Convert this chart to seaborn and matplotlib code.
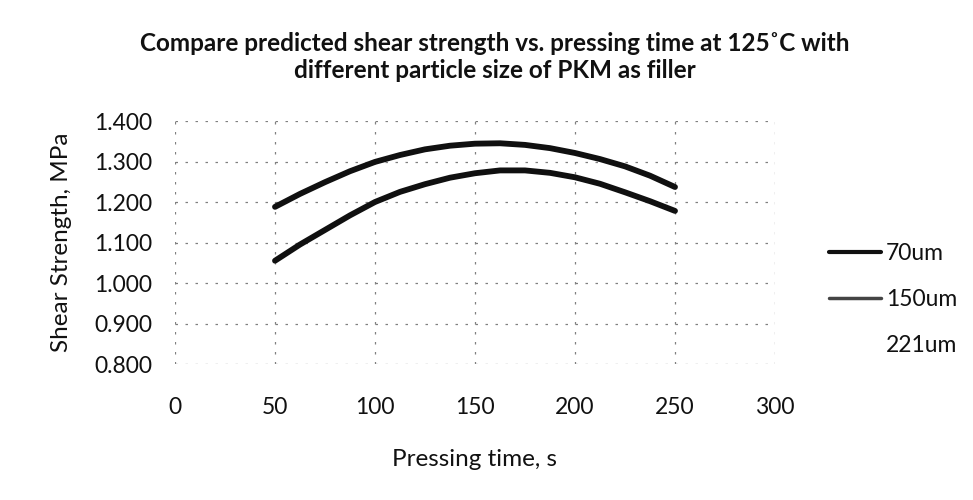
import matplotlib
matplotlib.use("Agg")
import matplotlib.pyplot as plt
from matplotlib.lines import Line2D
import seaborn as sns
import pandas as pd

# Data
time_s = [50, 62.5, 75, 87.5, 100, 112.5, 125, 137.5, 150, 162.5, 175,
          187.5, 200, 212.5, 225, 237.5, 250]
strength_70um = [1.188, 1.220, 1.249, 1.276, 1.299, 1.316, 1.330, 1.339, 1.344,
                 1.345, 1.341, 1.333, 1.321, 1.306, 1.288, 1.265, 1.237]
strength_150um = [1.055, 1.095, 1.131, 1.167, 1.200, 1.225, 1.244, 1.260, 1.271,
                  1.278, 1.278, 1.272, 1.261, 1.245, 1.224, 1.202, 1.178]
series_labels = ["70um", "150um", "221um"]
x_ticks = [0, 50, 100, 150, 200, 250, 300]
y_ticks = [0.8, 0.9, 1.0, 1.1, 1.2, 1.3, 1.4]

title = ("Compare predicted shear strength vs. pressing time at 125\u02daC with\n"
         "different particle size of PKM as filler")
x_label = "Pressing time, s"
y_label = "Shear Strength, MPa"

df = pd.concat([
    pd.DataFrame({"time": time_s, "strength": strength_70um, "size": series_labels[0]}),
    pd.DataFrame({"time": time_s, "strength": strength_150um, "size": series_labels[1]}),
])

sns.set_theme(style="white")
plt.rcParams["font.family"] = ["Lato", "DejaVu Sans"]

fig = plt.figure(figsize=(9.73, 5.0), dpi=100)
ax = fig.add_axes([175 / 973, 1 - 364 / 500, 600 / 973, 243 / 500])

line_color = "#101010"
sns.lineplot(data=df, x="time", y="strength", hue="size",
             palette={series_labels[0]: line_color, series_labels[1]: line_color},
             linewidth=4.2, legend=False, ax=ax)
for ln in ax.get_lines():
    ln.set_solid_capstyle("round")
    ln.set_solid_joinstyle("round")

ax.set_xlim(0, 300)
ax.set_ylim(0.8, 1.4)
ax.set_xticks(x_ticks)
ax.set_yticks(y_ticks)
ax.set_xticklabels([str(v) for v in x_ticks])
ax.set_yticklabels([f"{v:.3f}" for v in y_ticks])
ax.tick_params(axis="both", length=0, labelsize=16.5, colors="#111111")
ax.tick_params(axis="x", pad=24)
ax.tick_params(axis="y", pad=16.5)

for s in ax.spines.values():
    s.set_visible(False)
ax.grid(True, which="major", color="#808080", linestyle=(0, (2, 6)), linewidth=0.9)

ax.set_xlabel(x_label, fontsize=17.5, color="#111111", labelpad=22)
ax.set_ylabel(y_label, fontsize=17.5, color="#111111", labelpad=16)

fig.text(495 / 973, 1 - 57 / 500, title, ha="center", va="center",
         fontsize=17.5, fontweight="bold", color="#111111", linespacing=1.2)

handles = [
    Line2D([], [], color=line_color, linewidth=3),
    Line2D([], [], color="#444444", linewidth=2.5),
    Line2D([], [], color="none", linewidth=0),
]
fig.legend(handles, series_labels, loc="upper left",
           bbox_to_anchor=(808 / 973, 1 - 222 / 500), frameon=False,
           fontsize=16.5, handlelength=2.27, handletextpad=0.22,
           labelspacing=1.1, labelcolor="#111111")

fig.savefig("out.png", dpi=100)
